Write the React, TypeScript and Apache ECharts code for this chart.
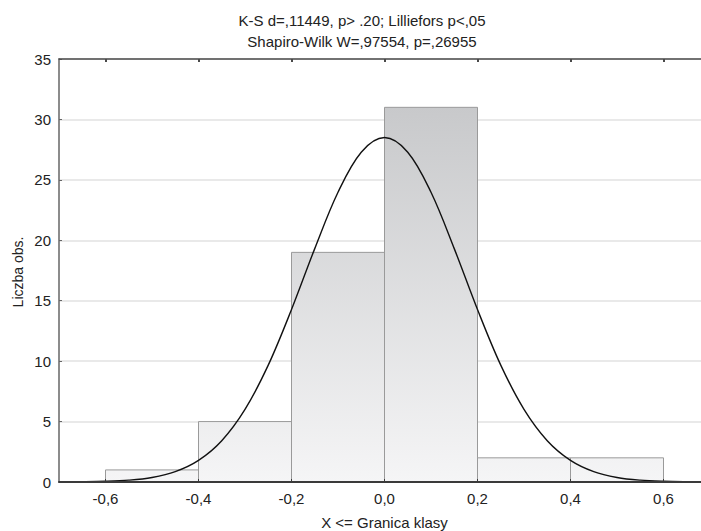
import React, { useEffect, useRef } from "react";
import * as echarts from "echarts";

const titleLines = [
  "K-S d=,11449, p> .20; Lilliefors p<,05",
  "Shapiro-Wilk W=,97554, p=,26955",
];
const xAxisName = "X <= Granica klasy";
const yAxisName = "Liczba obs.";

const binStarts = [-0.6, -0.4, -0.2, 0.0, 0.2, 0.4];
const binEnds = [-0.4, -0.2, 0.0, 0.2, 0.4, 0.6];
const counts = [1, 5, 19, 31, 2, 2];

const curveX = [
  -0.7, -0.65, -0.6, -0.55, -0.5, -0.45, -0.4, -0.35, -0.3, -0.25, -0.2, -0.15, -0.1, -0.05,
  0.0, 0.05, 0.1, 0.15, 0.2, 0.25, 0.3, 0.35, 0.4, 0.45, 0.5, 0.55, 0.6, 0.65, 0.7,
];
const curveY = [
  0.006, 0.019, 0.056, 0.152, 0.377, 0.858, 1.79, 3.42, 6.01, 9.67, 14.27, 19.31, 23.97, 27.29,
  28.5, 27.29, 23.97, 19.31, 14.27, 9.67, 6.01, 3.42, 1.79, 0.858, 0.377, 0.152, 0.056, 0.019, 0.006,
];

const xTicks = [-0.6, -0.4, -0.2, 0.0, 0.2, 0.4, 0.6];
const xMin = -0.7;
const xMax = 0.7;
const yMin = 0;
const yMax = 35;
const yStep = 5;

const FONT = "'Liberation Sans', Arial, sans-serif";

export default function App() {
  const ref = useRef<HTMLDivElement>(null);

  useEffect(() => {
    if (!ref.current) return;
    const chart = echarts.init(ref.current, null, { renderer: "svg" });

    const binData = binStarts.map((s, i) => [s, binEnds[i], counts[i]]);
    const curveData = curveX.map((x, i) => [x, curveY[i]]);

    const barFill = new echarts.graphic.LinearGradient(
      0, 107, 0, 482,
      [
        { offset: 0, color: "#c8c9cb" },
        { offset: 1, color: "#f5f5f6" },
      ],
      true
    );

    const fmt = (v: number) => {
      const r = Math.round(v * 10) / 10;
      return (Math.abs(r) < 1e-9 ? 0 : r).toFixed(1).replace(".", ",");
    };

    chart.setOption({
      animation: false,
      backgroundColor: "#ffffff",
      grid: { left: 59, right: 0, top: 59, bottom: 49, containLabel: false, show: false },
      graphic: [
        {
          type: "text",
          x: 362,
          y: 20.5,
          style: {
            text: titleLines[0],
            font: `15px ${FONT}`,
            fill: "#222",
            textAlign: "center",
            textVerticalAlign: "middle",
          },
        },
        {
          type: "text",
          x: 362,
          y: 41.5,
          style: {
            text: titleLines[1],
            font: `15px ${FONT}`,
            fill: "#222",
            textAlign: "center",
            textVerticalAlign: "middle",
          },
        },
        {
          type: "text",
          x: 384.5,
          y: 522.5,
          style: {
            text: xAxisName,
            font: `15px ${FONT}`,
            fill: "#222",
            textAlign: "center",
            textVerticalAlign: "middle",
          },
        },
        {
          type: "text",
          x: 18,
          y: 272,
          rotation: Math.PI / 2,
          style: {
            text: yAxisName,
            font: `14px ${FONT}`,
            fill: "#222",
            textAlign: "center",
            textVerticalAlign: "middle",
          },
        },
      ],
      xAxis: [
        {
          type: "value",
          position: "bottom",
          min: xMin,
          max: xMax,
          z: 10,
          axisLine: { show: true, onZero: false, lineStyle: { color: "#3a3a3a", width: 2 } },
          axisTick: { show: true, inside: true, length: 3, customValues: xTicks, lineStyle: { color: "#3a3a3a" } },
          axisLabel: {
            show: true,
            customValues: xTicks,
            formatter: fmt,
            fontSize: 15,
            fontFamily: FONT,
            color: "#222",
            margin: 9,
          },
          splitLine: { show: false },
        },
        {
          type: "value",
          position: "top",
          min: xMin,
          max: xMax,
          z: 10,
          axisLine: { show: true, onZero: false, lineStyle: { color: "#4a4a4a", width: 1.5 } },
          axisTick: { show: true, inside: true, length: 3, customValues: xTicks, lineStyle: { color: "#4a4a4a", width: 2 } },
          axisLabel: { show: false },
          splitLine: { show: false },
        },
      ],
      yAxis: {
        type: "value",
        position: "left",
        min: yMin,
        max: yMax,
        interval: yStep,
        axisLine: { show: true, onZero: false, lineStyle: { color: "#666", width: 1.5 } },
        axisTick: { show: true, inside: true, length: 3, lineStyle: { color: "#666" } },
        axisLabel: { fontSize: 15, fontFamily: FONT, color: "#222", margin: 8 },
        splitLine: { show: true, lineStyle: { color: "#e2e2e2", width: 1.5 } },
      },
      series: [
        {
          type: "custom",
          xAxisIndex: 0,
          yAxisIndex: 0,
          data: binData,
          encode: { x: [0, 1], y: 2 },
          renderItem: (params: any, api: any) => {
            const x0 = api.value(0);
            const x1 = api.value(1);
            const c = api.value(2);
            const p0 = api.coord([x0, c]);
            const p1 = api.coord([x1, 0]);
            return {
              type: "rect",
              shape: { x: p0[0], y: p0[1], width: p1[0] - p0[0], height: p1[1] - p0[1] },
              style: { fill: barFill, stroke: "#9a9a9a", lineWidth: 1 },
            };
          },
          z: 2,
        },
        {
          type: "custom",
          xAxisIndex: 0,
          yAxisIndex: 0,
          data: curveData,
          encode: { x: 0, y: 1 },
          renderItem: (params: any, api: any) => {
            if (params.dataIndex !== 0) return null;
            const pts = curveData.map((d) => api.coord(d));
            return {
              type: "polyline",
              shape: { points: pts, smooth: 0.35 },
              style: { fill: "none", stroke: "#111", lineWidth: 1.4 },
            };
          },
          z: 5,
        },
      ],
    });

    return () => chart.dispose();
  }, []);

  return (
    <div
      style={{
        position: "absolute",
        left: 0,
        top: 0,
        width: 701,
        height: 531,
        overflow: "hidden",
        background: "#fff",
      }}
    >
      <div ref={ref} style={{ width: 710, height: 531 }} />
    </div>
  );
}
